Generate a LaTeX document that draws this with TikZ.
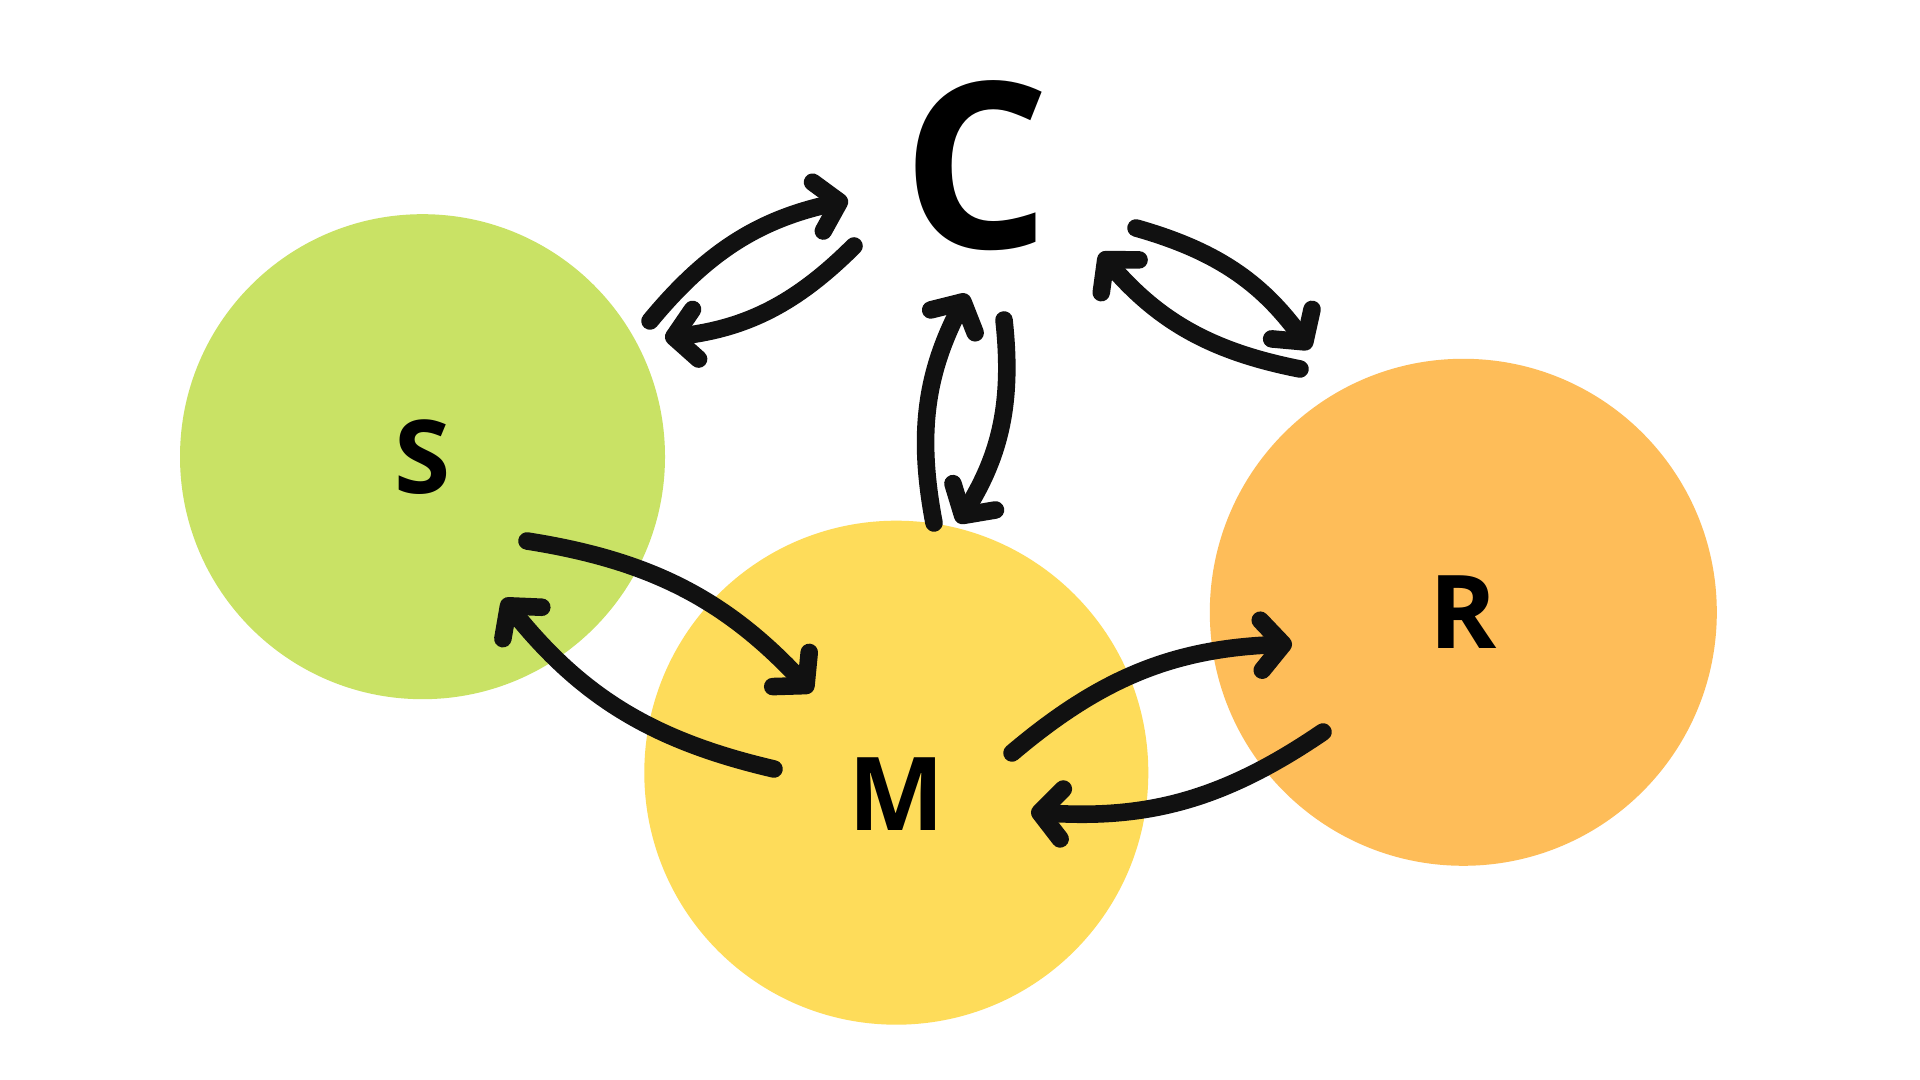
\documentclass[tikz,border=0pt]{standalone}
\usepackage{fontspec}
\setmainfont{Open Sans}
\usepackage{tikz}
\usetikzlibrary{arrows.meta}
\definecolor{Lime}{HTML}{C9E265}
\definecolor{Sun}{HTML}{FEDC5A}
\definecolor{Peach}{HTML}{FEBD59}
\definecolor{Ink}{HTML}{111111}
\tikzset{
  bubble/.style={circle,inner sep=0pt,draw=none},
  letter/.style={inner sep=0pt,text=black,font=\fontsize{29}{29}\selectfont\bfseries},
  bigletter/.style={inner sep=0pt,text=black,font=\fontsize{66}{66}\selectfont\bfseries},
  link/.style={-{Straight Barb[length=2.2mm,width=5mm,line cap=round,line join=round]},line width=5pt,color=Ink,line cap=round,bend left=19}
}

\begin{document}
\begin{tikzpicture}
  \useasboundingbox[fill=white] (0,0) rectangle (19.2,10.8);
  \node[bubble,fill=Lime,minimum size=4.85cm] (S) at (4.225,6.233) {};
  \node[bubble,fill=Sun,minimum size=5.04cm] (M) at (8.963,3.073) {};
  \node[bubble,fill=Peach,minimum size=5.07cm] (R) at (14.633,4.677) {};
  \node[letter] (Stxt) at (S) {S};
  \node[letter] (Mtxt) at ([yshift=-0.21cm]M.center) {M};
  \node[letter] (Rtxt) at (R) {R};
  \node[bigletter] (C) at (9.76,9.147) {C};
  \coordinate (sc1) at (6.50,7.59);  \coordinate (sc2) at (8.48,8.80);
  \coordinate (cs1) at (8.54,8.34);  \coordinate (cs2) at (6.65,7.42);
  \coordinate (mc1) at (9.34,5.57);  \coordinate (mc2) at (9.67,7.86);
  \coordinate (cm1) at (10.04,7.60); \coordinate (cm2) at (9.58,5.57);
  \coordinate (cr1) at (11.36,8.52); \coordinate (cr2) at (13.10,7.31);
  \coordinate (rc1) at (13.00,7.11); \coordinate (rc2) at (11.00,8.27);
  \coordinate (sm1) at (5.27,5.39);  \coordinate (sm2) at (8.12,3.88);
  \coordinate (ms1) at (7.74,3.11);  \coordinate (ms2) at (5.03,4.81);
  \coordinate (mr1) at (10.12,3.27); \coordinate (mr2) at (12.92,4.36);
  \coordinate (rm1) at (13.23,3.48); \coordinate (rm2) at (10.31,2.68);
  \draw[link] (sc1) to (sc2);
  \draw[link] (cs1) to (cs2);
  \draw[link] (mc1) to (mc2);
  \draw[link] (cm1) to (cm2);
  \draw[link] (cr1) to (cr2);
  \draw[link] (rc1) to (rc2);
  \draw[link] (sm1) to (sm2);
  \draw[link] (ms1) to (ms2);
  \draw[link] (mr1) to (mr2);
  \draw[link] (rm1) to (rm2);
\end{tikzpicture}
\end{document}
